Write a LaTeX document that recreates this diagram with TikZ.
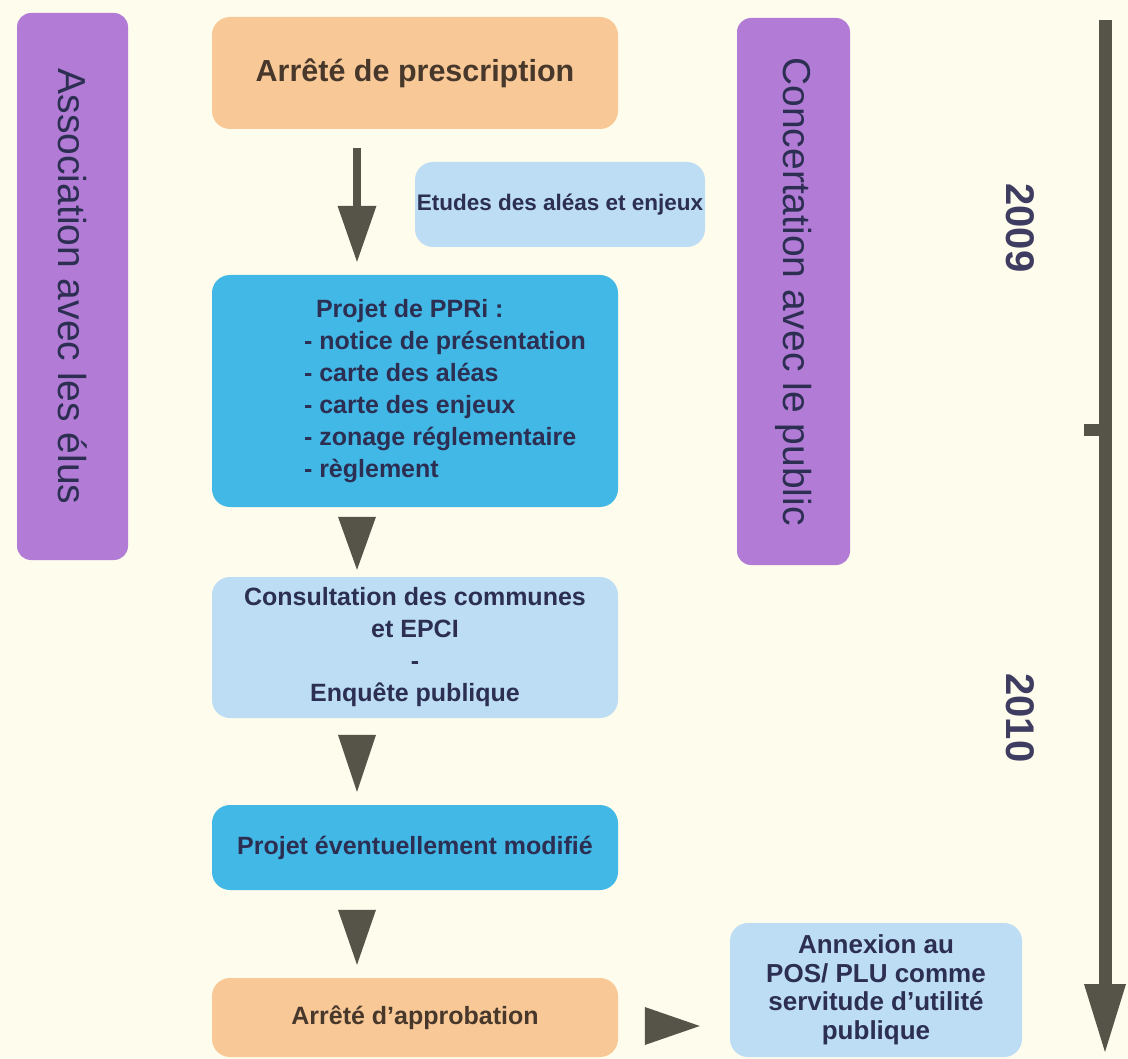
\documentclass[tikz,border=0pt]{standalone}
\usepackage{fontspec}
\setmainfont{Liberation Sans}
\usetikzlibrary{arrows.meta}
\definecolor{fond}{RGB}{254,252,236}
\definecolor{orangeclair}{RGB}{248,201,150}
\definecolor{cyanfonce}{RGB}{66,184,230}
\definecolor{bleuclair}{RGB}{188,221,244}
\definecolor{mauve}{RGB}{178,124,214}
\definecolor{gris}{RGB}{86,84,72}
\definecolor{encre}{RGB}{44,46,82}
\definecolor{brun}{RGB}{72,56,44}
\definecolor{annee}{RGB}{62,60,96}
\begin{document}
\begin{tikzpicture}[x=1pt, y=-1pt,
	etape/.style={shape=rectangle, rounded corners=18pt, inner sep=0pt, align=center, text=encre, font=\bfseries\fontsize{25}{32}\selectfont, minimum width=406pt},
	bande/.style={shape=rectangle, rounded corners=14pt, inner sep=0pt, fill=mauve, rotate=-90, minimum width=547pt, text=encre, font=\fontsize{39}{44}\selectfont},
	pointe/.style={gris, line width=1pt, -{Triangle[length=#1, width=38pt, line width=0pt]}}
]
			\fill[fond] (0,0) rectangle (1128,1059);

			\node[bande, minimum height=111pt] (elus) at (72.5,286.5){Association avec les élus};
			\node[bande, minimum height=113pt] (public) at (793.5,291.5){Concertation avec le public};

			\node[etape, fill=orangeclair, minimum height=112pt, text=brun, font=\bfseries\fontsize{30.5}{36}\selectfont] (prescription) at (415,73){Arrêté de prescription};
			\node[etape, fill=bleuclair, minimum width=290pt, minimum height=85pt, font=\bfseries\fontsize{22.5}{27}\selectfont] (etudes) at (560,204.5){Etudes des aléas et enjeux};
			\node[etape, fill=cyanfonce, minimum height=232pt] (ppri) at (415,391){\hspace*{60pt}\begin{tabular}{@{}l@{}}\hspace*{12pt}Projet de PPRi :\\- notice de présentation\\- carte des aléas\\- carte des enjeux\\- zonage réglementaire\\- règlement\end{tabular}};
			\node[etape, fill=bleuclair, minimum height=141pt] (consult) at (415,647.5){Consultation des communes\\et EPCI\\-\\Enquête publique};
			\node[etape, fill=cyanfonce, minimum height=85pt] (modif) at (415,847.5){Projet éventuellement modifié};
			\node[etape, fill=orangeclair, minimum height=79pt, text=brun] (approb) at (415,1017.5){Arrêté d’approbation};
			\node[etape, fill=bleuclair, minimum width=292pt, minimum height=134pt, font=\bfseries\fontsize{26}{28.5}\selectfont] (annexe) at (876,990){Annexion au\\POS/ PLU comme\\servitude d’utilité\\publique};

			\node[text=annee, rotate=-90, font=\bfseries\fontsize{40}{44}\selectfont] (an1) at (1020,228){2009};
			\node[text=annee, rotate=-90, font=\bfseries\fontsize{40}{44}\selectfont] (an2) at (1020,718){2010};

			\coordinate (haut) at (1105,20);
			\coordinate (bas) at (1105,1052);
			\coordinate (marque) at (1084,430);
			\draw[gris, line width=13pt, -{Triangle[length=68pt, width=42pt, line width=0pt]}] (haut) -- (bas);
			\draw[gris, line width=12pt] (marque) -- (marque -| haut);

			\draw[gris, line width=8pt, -{Triangle[length=56pt, width=39pt, line width=0pt]}, shorten <=19pt, shorten >=13pt] ([xshift=-58pt]prescription.south) -- ([xshift=-58pt]ppri.north);
			\foreach \a/\b/\d/\f/\l in {ppri/consult/10/7/53, consult/modif/17/13/57, modif/approb/20/13/55}
				{
					\draw[pointe=\l pt, shorten <=\d pt, shorten >=\f pt] ([xshift=-58pt]\a.south) -- ([xshift=-58pt]\b.north);
				}
			\draw[pointe=55pt, shorten <=27pt, shorten >=30pt] ([yshift=-8.5pt]approb.east) -- ([yshift=-8.5pt]approb.east -| annexe.west);
\end{tikzpicture}
\end{document}
